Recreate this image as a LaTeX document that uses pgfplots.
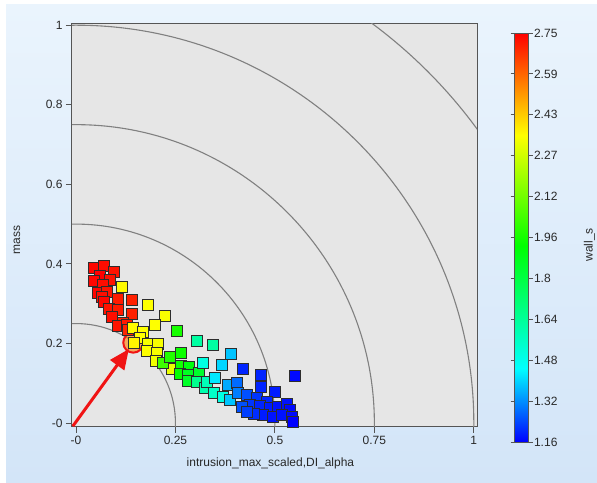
\documentclass[border=0pt]{standalone}
\usepackage{fontspec}
\setmainfont{Liberation Sans}
\usepackage{pgfplots}
\usepackage{pgfplotstable}
\pgfplotsset{compat=1.18}
\usetikzlibrary{arrows.meta}
\definecolor{bgtop}{RGB}{234,244,253}
\definecolor{bgbot}{RGB}{211,229,248}
\definecolor{axbg}{RGB}{230,230,230}
\definecolor{frame}{RGB}{85,85,85}
\definecolor{txt}{RGB}{40,40,40}
\definecolor{arcc}{RGB}{128,128,128}
\definecolor{markedge}{RGB}{45,45,45}
\definecolor{arrowred}{RGB}{240,20,20}
\pgfplotstableread{
x y c
0.045 0.389 2.74
0.069 0.395 2.73
0.095 0.380 2.72
0.059 0.369 2.75
0.044 0.357 2.74
0.085 0.359 2.72
0.067 0.347 2.73
0.054 0.328 2.74
0.077 0.330 2.72
0.064 0.317 2.73
0.106 0.313 2.71
0.140 0.309 2.70
0.069 0.305 2.74
0.084 0.288 2.72
0.106 0.284 2.71
0.140 0.274 2.70
0.090 0.267 2.73
0.119 0.252 2.70
0.106 0.244 2.72
0.127 0.246 2.71
0.131 0.234 2.69
0.115 0.341 2.36
0.182 0.296 2.35
0.224 0.269 2.34
0.198 0.246 2.35
0.142 0.240 2.36
0.169 0.229 2.35
0.161 0.213 2.35
0.182 0.200 2.34
0.207 0.200 2.34
0.179 0.182 2.35
0.203 0.177 2.34
0.201 0.156 2.33
0.240 0.135 2.32
0.146 0.202 2.37
0.253 0.231 1.96
0.219 0.150 2.03
0.236 0.167 1.98
0.263 0.177 1.94
0.263 0.143 1.95
0.285 0.140 1.90
0.261 0.123 1.93
0.282 0.121 1.86
0.310 0.125 1.84
0.282 0.106 1.85
0.305 0.207 1.62
0.343 0.196 1.62
0.320 0.150 1.50
0.303 0.104 1.66
0.324 0.089 1.60
0.347 0.075 1.55
0.370 0.066 1.50
0.328 0.104 1.58
0.389 0.173 1.38
0.368 0.146 1.40
0.349 0.114 1.42
0.420 0.135 1.20
0.383 0.095 1.35
0.404 0.100 1.28
0.387 0.058 1.38
0.408 0.075 1.30
0.429 0.070 1.25
0.466 0.121 1.20
0.466 0.091 1.20
0.500 0.079 1.19
0.550 0.119 1.17
0.454 0.062 1.22
0.479 0.054 1.20
0.437 0.045 1.22
0.462 0.043 1.20
0.487 0.037 1.19
0.508 0.041 1.18
0.529 0.048 1.18
0.538 0.033 1.17
0.416 0.041 1.25
0.471 0.020 1.19
0.496 0.016 1.18
0.517 0.020 1.18
0.542 0.016 1.17
0.546 0.003 1.16
0.446 0.024 1.21
0.429 0.028 1.23
}\pts
\begin{document}
\begin{tikzpicture}
\useasboundingbox (0,0) rectangle (597pt,482pt);
\fill[white] (0,0) rectangle (597pt,482pt);
\shade[top color=bgtop, bottom color=bgbot] (6pt,0) rectangle (597pt,477pt);
\begin{axis}[
  scale only axis, width=405pt, height=403pt,
  at={(72pt,55pt)}, anchor=south west,
  xmin=-0.01, xmax=1.008, ymin=-0.01, ymax=1.003,
  enlargelimits=false,
  axis background/.style={fill=axbg},
  axis line style={draw=frame, line width=1pt},
  tick align=outside, major tick length=6pt,
  tick style={draw=frame, line width=0.8pt},
  xtick pos=bottom, ytick pos=left,
  xtick={0,0.25,0.5,0.75,1}, xticklabels={-0,0.25,0.5,0.75,1},
  ytick={0,0.2,0.4,0.6,0.8,1}, yticklabels={-0,0.2,0.4,0.6,0.8,1},
  ticklabel style={font=\fontsize{12}{14}\selectfont, text=txt},
  xlabel={intrusion\_max\_scaled,DI\_alpha},
  xlabel style={at={(axis description cs:0.49,0)}, anchor=center, yshift=-36pt, font=\fontsize{12}{14}\selectfont, text=txt},
  ylabel={mass},
  ylabel style={at={(axis description cs:-0.1358,0.464)}, anchor=center, font=\fontsize{12}{14}\selectfont, text=txt},
  colormap={wallmap}{rgb255(0cm)=(0,0,255); rgb255(0.18cm)=(0,255,255); rgb255(0.48cm)=(0,255,0); rgb255(0.75cm)=(255,255,0); rgb255(1cm)=(255,0,0)},
  point meta min=1.16, point meta max=2.75,
  colorbar,
  colorbar style={
    at={(parent axis.south east)}, anchor=south west,
    xshift=29pt, yshift=-15pt,
    scale only axis, width=14pt, height=409pt,
    axis line style={draw=frame, line width=0.8pt},
    tick align=outside, major tick length=4pt,
    tick style={draw=frame, line width=0.8pt},
    ytick={1.16,1.319,1.478,1.637,1.796,1.955,2.114,2.273,2.432,2.591,2.75},
    yticklabels={1.16,1.32,1.48,1.64,1.8,1.96,2.12,2.27,2.43,2.59,2.75},
    yticklabel style={font=\fontsize{12}{14}\selectfont, text=txt, xshift=-2pt},
    ylabel={wall\_s},
    ylabel style={at={(axis description cs:5.357,0.4817)}, anchor=center, font=\fontsize{12}{14}\selectfont, text=txt},
  },
]
\draw[arcc, line width=1.1pt] (axis cs:0,0) circle[radius=0.25];
\draw[arcc, line width=1.1pt] (axis cs:0,0) circle[radius=0.5];
\draw[arcc, line width=1.1pt] (axis cs:0,0) circle[radius=0.75];
\draw[arcc, line width=1.1pt] (axis cs:0,0) circle[radius=1];
\draw[arcc, line width=1.1pt] (axis cs:0,0) circle[radius=1.25];
\addplot[scatter, only marks, mark=square*, mark size=5.5pt,
  point meta=explicit,
  scatter/use mapped color={draw=markedge, fill=mapped color},
  mark options={line width=0.8pt}]
  table[x=x, y=y, meta=c] {\pts};
\draw[arrowred, line width=2pt, fill=orange, fill opacity=0.6, draw opacity=1] (axis cs:0.144,0.202) circle[radius=10pt];
\draw[arrowred, line width=3pt, -{Triangle[length=20pt,width=17pt]}] (axis cs:-0.008,-0.008) -- (axis cs:0.133,0.186);
\end{axis}
\end{tikzpicture}
\end{document}
